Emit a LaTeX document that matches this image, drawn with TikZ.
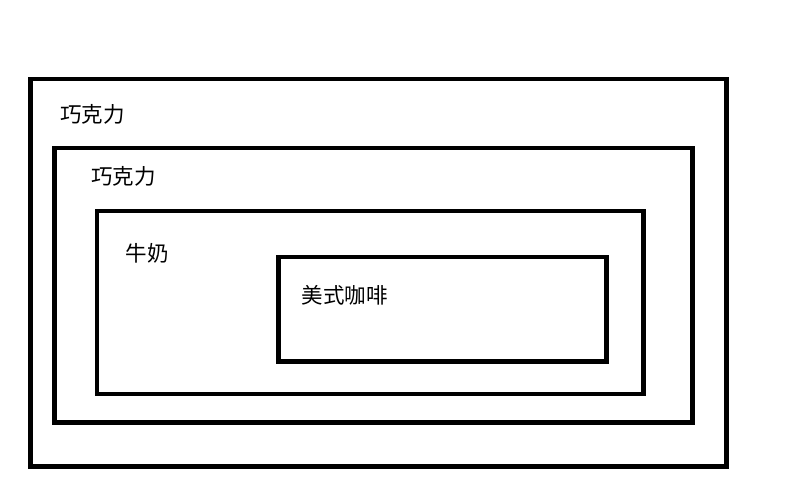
\documentclass[tikz,border=0pt]{standalone}
\usepackage{fontspec}
\newfontfamily\cjk{Noto Sans CJK SC}
\usetikzlibrary{calc}

\begin{document}
\begin{tikzpicture}[x=1pt, y=-1pt]
    \tikzstyle{box} = [draw=black, line width=4.7pt]
    \tikzstyle{flavour} = [font=\cjk\fontsize{21.5pt}{24pt}\selectfont, inner sep=0pt]

    \useasboundingbox (0,0) rectangle (811,503);

    % Boxes ----------------------------------------
    \draw[box] (30.5, 79) rectangle (726.3, 466.3);
    \draw[box] (54.5, 148) rectangle (692.3, 422.3);
    \draw[box] (97, 211) rectangle (643.5, 394);
    \draw[box] (278.5, 257) rectangle (606.5, 361.7);
    % ---------------------------------------------------

    % Labels
    \node (choc) at (92.6, 114) [flavour] {巧克力};
    \node (choc2) at (123.5, 176) [flavour] {巧克力};
    \node (milk) at (147, 253) [flavour] {牛奶};
    \node (coffee) at (344.5, 295) [flavour] {美式咖啡};
\end{tikzpicture}
\end{document}
